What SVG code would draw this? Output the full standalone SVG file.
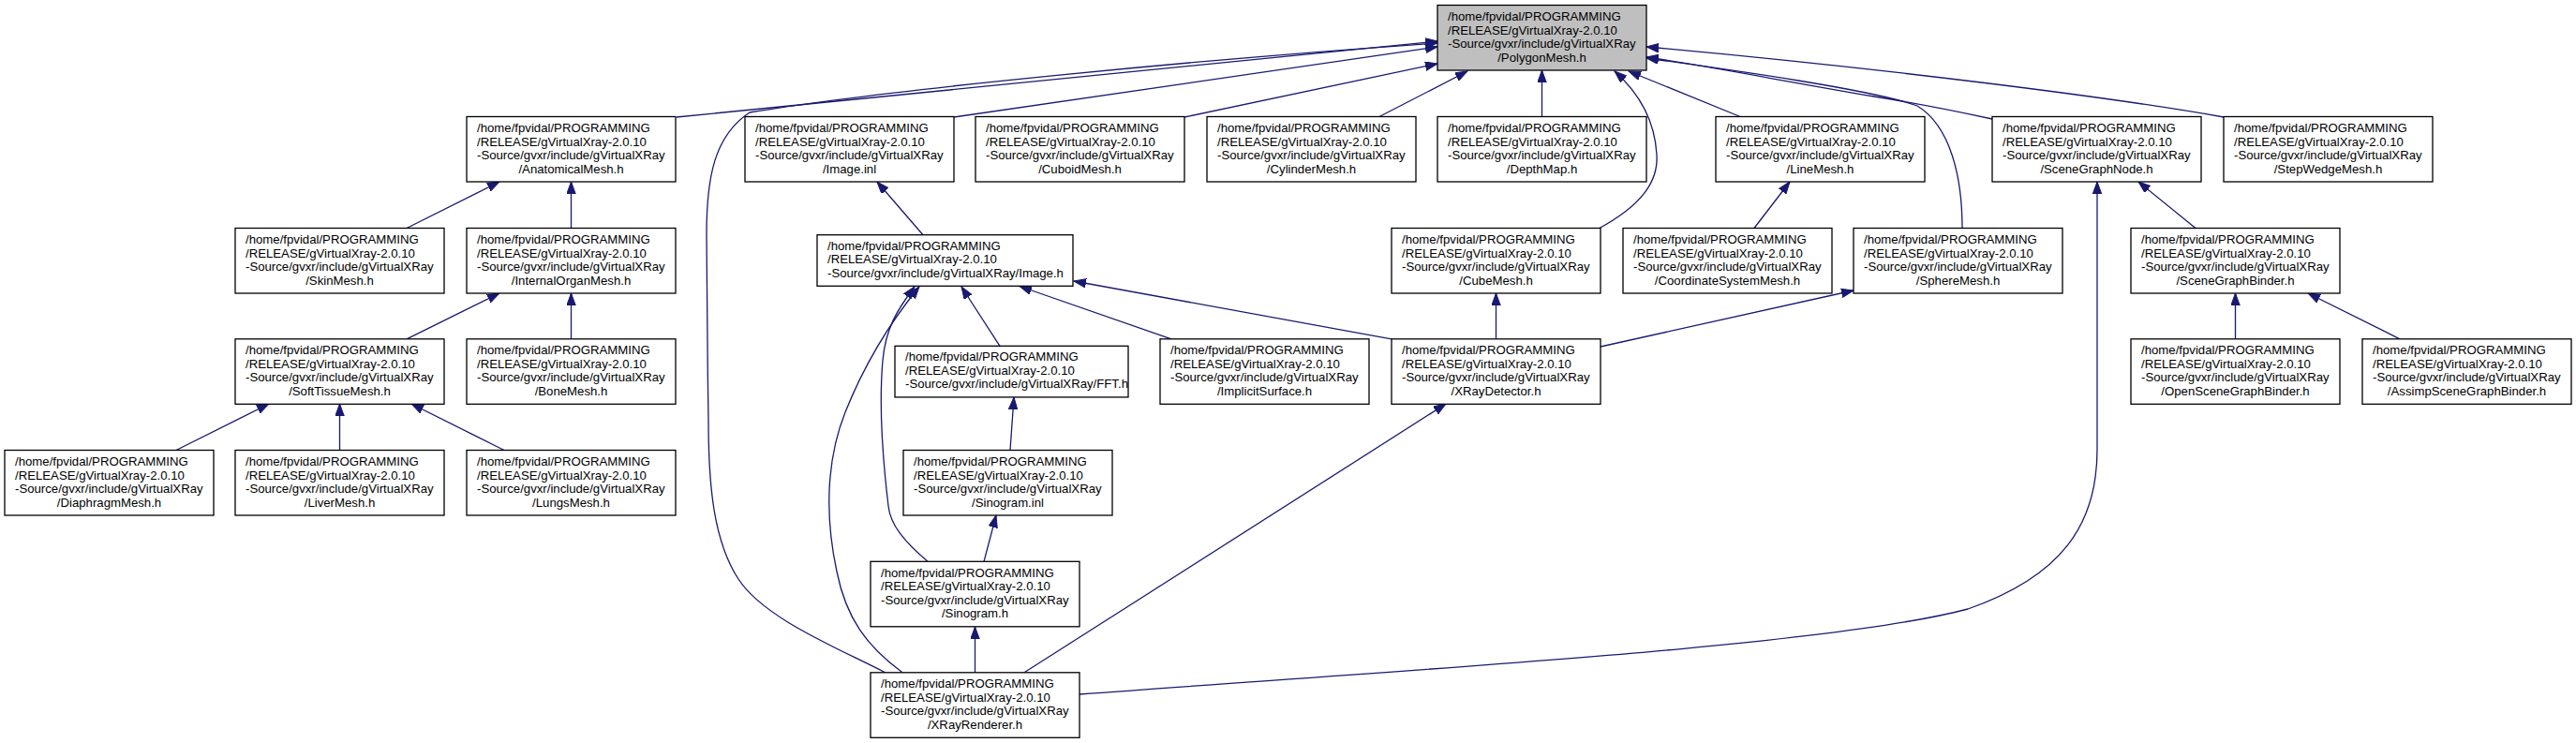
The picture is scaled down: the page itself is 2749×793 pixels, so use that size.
<svg xmlns="http://www.w3.org/2000/svg" width="2749" height="793" viewBox="0 0 2749 793">
<style>
.node rect{fill:#fff;stroke:#000;stroke-width:1.3}
#polygonmesh rect{fill:#bfbfbf}
.node text{font-family:"Liberation Sans",Arial,Helvetica,sans-serif;font-size:13.2px;fill:#000}
.node text.c{text-anchor:middle}
.edge{fill:none;stroke:#191970;stroke-width:1.3;marker-end:url(#arr)}
</style>
<defs>
<marker id="arr" markerUnits="userSpaceOnUse" markerWidth="14" markerHeight="10" refX="13" refY="4.75" orient="auto">
<path d="M0,0 L13,4.75 L0,9.5 z" fill="#191970" stroke="#191970" stroke-width="1"/>
</marker>
</defs>
<rect width="2749" height="793" fill="#fff"/>
<g id="connectors">
<path class="edge" d="M722,125 L1534,44"/>
<path class="edge" d="M945,718 C895,692 815,660 788,618 C762,578 756,520 756,450 C755,380 754,300 754,250 C754,190 762,145 800,120 C950,95 1300,62 1534,46"/>
<path class="edge" d="M1018,125 L1534,50"/>
<path class="edge" d="M1264,125 L1534,68"/>
<path class="edge" d="M1471,125 L1566,76"/>
<path class="edge" d="M1645.5,124.5 L1645.5,75"/>
<path class="edge" d="M1707,243.5 C1750,220 1770,195 1768,165 C1766,130 1750,100 1723,76"/>
<path class="edge" d="M1857,124.5 L1738,76"/>
<path class="edge" d="M2126,127 C2080,117 2050,111 2000,103 C1900,86 1820,70 1757,61"/>
<path class="edge" d="M2373,125 C2250,103 2000,72 1757,50"/>
<path class="edge" d="M2094,243.5 C2094,190 2082,135 2046,113 C2000,96 1850,75 1757,62"/>
<path class="edge" d="M434,243.5 L533,194"/>
<path class="edge" d="M609.5,243.5 L609.5,194"/>
<path class="edge" d="M985,250.7 L936,194"/>
<path class="edge" d="M1872,243.5 L1910,194"/>
<path class="edge" d="M2343,243.5 L2282,194"/>
<path class="edge" d="M1152,741 C1500,715 1950,690 2100,650 C2200,615 2238,560 2238,480 L2238,194"/>
<path class="edge" d="M434,361.8 L533,313"/>
<path class="edge" d="M609.5,361.8 L609.5,313"/>
<path class="edge" d="M1067,369.3 L1026,306"/>
<path class="edge" d="M1250,361.8 L1088,305.5"/>
<path class="edge" d="M1485,361.8 L1146,300"/>
<path class="edge" d="M1596.5,361.8 L1596.5,313"/>
<path class="edge" d="M1708,370 L1978,310"/>
<path class="edge" d="M2385.5,361.8 L2385.5,313"/>
<path class="edge" d="M2561,361.8 L2463,313"/>
<path class="edge" d="M188,480.5 L287,431"/>
<path class="edge" d="M362.5,480.5 L362.5,431"/>
<path class="edge" d="M538,480.5 L439,431"/>
<path class="edge" d="M1078,480.5 L1082,424"/>
<path class="edge" d="M1050,599.3 L1063,550"/>
<path class="edge" d="M990,599.3 C965,578 950,560 948,540 C942,490 938,430 942,385 C945,350 958,330 976,306"/>
<path class="edge" d="M963,717.8 C925,690 903,660 893,610 C880,550 882,490 902,440 C920,395 945,350 981,306"/>
<path class="edge" d="M1040.5,717.8 L1040.5,669"/>
<path class="edge" d="M1093,717.8 L1543,431"/>
</g>
<g id="polygonmesh" class="node"><rect x="1534" y="5.5" width="223" height="69.5"/><text x="1545" y="22">/home/fpvidal/PROGRAMMING</text><text x="1545" y="36.5">/RELEASE/gVirtualXray-2.0.10</text><text x="1545" y="51">-Source/gvxr/include/gVirtualXRay</text><text class="c" x="1645.5" y="65.5">/PolygonMesh.h</text></g>
<g id="anatomicalmesh" class="node"><rect x="498" y="124.5" width="223" height="69.5"/><text x="509" y="141">/home/fpvidal/PROGRAMMING</text><text x="509" y="155.5">/RELEASE/gVirtualXray-2.0.10</text><text x="509" y="170">-Source/gvxr/include/gVirtualXRay</text><text class="c" x="609.5" y="184.5">/AnatomicalMesh.h</text></g>
<g id="imageinl" class="node"><rect x="795" y="124.5" width="223" height="69.5"/><text x="806" y="141">/home/fpvidal/PROGRAMMING</text><text x="806" y="155.5">/RELEASE/gVirtualXray-2.0.10</text><text x="806" y="170">-Source/gvxr/include/gVirtualXRay</text><text class="c" x="906.5" y="184.5">/Image.inl</text></g>
<g id="cuboidmesh" class="node"><rect x="1041" y="124.5" width="223" height="69.5"/><text x="1052" y="141">/home/fpvidal/PROGRAMMING</text><text x="1052" y="155.5">/RELEASE/gVirtualXray-2.0.10</text><text x="1052" y="170">-Source/gvxr/include/gVirtualXRay</text><text class="c" x="1152.5" y="184.5">/CuboidMesh.h</text></g>
<g id="cylindermesh" class="node"><rect x="1288" y="124.5" width="223" height="69.5"/><text x="1299" y="141">/home/fpvidal/PROGRAMMING</text><text x="1299" y="155.5">/RELEASE/gVirtualXray-2.0.10</text><text x="1299" y="170">-Source/gvxr/include/gVirtualXRay</text><text class="c" x="1399.5" y="184.5">/CylinderMesh.h</text></g>
<g id="depthmap" class="node"><rect x="1534" y="124.5" width="223" height="69.5"/><text x="1545" y="141">/home/fpvidal/PROGRAMMING</text><text x="1545" y="155.5">/RELEASE/gVirtualXray-2.0.10</text><text x="1545" y="170">-Source/gvxr/include/gVirtualXRay</text><text class="c" x="1645.5" y="184.5">/DepthMap.h</text></g>
<g id="linemesh" class="node"><rect x="1831" y="124.5" width="223" height="69.5"/><text x="1842" y="141">/home/fpvidal/PROGRAMMING</text><text x="1842" y="155.5">/RELEASE/gVirtualXray-2.0.10</text><text x="1842" y="170">-Source/gvxr/include/gVirtualXRay</text><text class="c" x="1942.5" y="184.5">/LineMesh.h</text></g>
<g id="scenegraphnode" class="node"><rect x="2126" y="124.5" width="223" height="69.5"/><text x="2137" y="141">/home/fpvidal/PROGRAMMING</text><text x="2137" y="155.5">/RELEASE/gVirtualXray-2.0.10</text><text x="2137" y="170">-Source/gvxr/include/gVirtualXRay</text><text class="c" x="2237.5" y="184.5">/SceneGraphNode.h</text></g>
<g id="stepwedgemesh" class="node"><rect x="2373" y="124.5" width="223" height="69.5"/><text x="2384" y="141">/home/fpvidal/PROGRAMMING</text><text x="2384" y="155.5">/RELEASE/gVirtualXray-2.0.10</text><text x="2384" y="170">-Source/gvxr/include/gVirtualXRay</text><text class="c" x="2484.5" y="184.5">/StepWedgeMesh.h</text></g>
<g id="skinmesh" class="node"><rect x="251" y="243.5" width="223" height="69.5"/><text x="262" y="260">/home/fpvidal/PROGRAMMING</text><text x="262" y="274.5">/RELEASE/gVirtualXray-2.0.10</text><text x="262" y="289">-Source/gvxr/include/gVirtualXRay</text><text class="c" x="362.5" y="303.5">/SkinMesh.h</text></g>
<g id="internalorganmesh" class="node"><rect x="498" y="243.5" width="223" height="69.5"/><text x="509" y="260">/home/fpvidal/PROGRAMMING</text><text x="509" y="274.5">/RELEASE/gVirtualXray-2.0.10</text><text x="509" y="289">-Source/gvxr/include/gVirtualXRay</text><text class="c" x="609.5" y="303.5">/InternalOrganMesh.h</text></g>
<g id="imageh" class="node"><rect x="872" y="250.7" width="273" height="54.6"/><text x="883" y="266.7">/home/fpvidal/PROGRAMMING</text><text x="883" y="281.2">/RELEASE/gVirtualXray-2.0.10</text><text x="883" y="295.7">-Source/gvxr/include/gVirtualXRay/Image.h</text></g>
<g id="cubemesh" class="node"><rect x="1485" y="243.5" width="223" height="69.5"/><text x="1496" y="260">/home/fpvidal/PROGRAMMING</text><text x="1496" y="274.5">/RELEASE/gVirtualXray-2.0.10</text><text x="1496" y="289">-Source/gvxr/include/gVirtualXRay</text><text class="c" x="1596.5" y="303.5">/CubeMesh.h</text></g>
<g id="coordinatesystemmesh" class="node"><rect x="1732" y="243.5" width="223" height="69.5"/><text x="1743" y="260">/home/fpvidal/PROGRAMMING</text><text x="1743" y="274.5">/RELEASE/gVirtualXray-2.0.10</text><text x="1743" y="289">-Source/gvxr/include/gVirtualXRay</text><text class="c" x="1843.5" y="303.5">/CoordinateSystemMesh.h</text></g>
<g id="spheremesh" class="node"><rect x="1978" y="243.5" width="223" height="69.5"/><text x="1989" y="260">/home/fpvidal/PROGRAMMING</text><text x="1989" y="274.5">/RELEASE/gVirtualXray-2.0.10</text><text x="1989" y="289">-Source/gvxr/include/gVirtualXRay</text><text class="c" x="2089.5" y="303.5">/SphereMesh.h</text></g>
<g id="scenegraphbinder" class="node"><rect x="2274" y="243.5" width="223" height="69.5"/><text x="2285" y="260">/home/fpvidal/PROGRAMMING</text><text x="2285" y="274.5">/RELEASE/gVirtualXray-2.0.10</text><text x="2285" y="289">-Source/gvxr/include/gVirtualXRay</text><text class="c" x="2385.5" y="303.5">/SceneGraphBinder.h</text></g>
<g id="softtissuemesh" class="node"><rect x="251" y="361.8" width="223" height="69.5"/><text x="262" y="378.3">/home/fpvidal/PROGRAMMING</text><text x="262" y="392.8">/RELEASE/gVirtualXray-2.0.10</text><text x="262" y="407.3">-Source/gvxr/include/gVirtualXRay</text><text class="c" x="362.5" y="421.8">/SoftTissueMesh.h</text></g>
<g id="bonemesh" class="node"><rect x="498" y="361.8" width="223" height="69.5"/><text x="509" y="378.3">/home/fpvidal/PROGRAMMING</text><text x="509" y="392.8">/RELEASE/gVirtualXray-2.0.10</text><text x="509" y="407.3">-Source/gvxr/include/gVirtualXRay</text><text class="c" x="609.5" y="421.8">/BoneMesh.h</text></g>
<g id="ffth" class="node"><rect x="955" y="369.3" width="249" height="54.6"/><text x="966" y="385.3">/home/fpvidal/PROGRAMMING</text><text x="966" y="399.8">/RELEASE/gVirtualXray-2.0.10</text><text x="966" y="414.3">-Source/gvxr/include/gVirtualXRay/FFT.h</text></g>
<g id="implicitsurface" class="node"><rect x="1238" y="361.8" width="223" height="69.5"/><text x="1249" y="378.3">/home/fpvidal/PROGRAMMING</text><text x="1249" y="392.8">/RELEASE/gVirtualXray-2.0.10</text><text x="1249" y="407.3">-Source/gvxr/include/gVirtualXRay</text><text class="c" x="1349.5" y="421.8">/ImplicitSurface.h</text></g>
<g id="xraydetector" class="node"><rect x="1485" y="361.8" width="223" height="69.5"/><text x="1496" y="378.3">/home/fpvidal/PROGRAMMING</text><text x="1496" y="392.8">/RELEASE/gVirtualXray-2.0.10</text><text x="1496" y="407.3">-Source/gvxr/include/gVirtualXRay</text><text class="c" x="1596.5" y="421.8">/XRayDetector.h</text></g>
<g id="openscenegraphbinder" class="node"><rect x="2274" y="361.8" width="223" height="69.5"/><text x="2285" y="378.3">/home/fpvidal/PROGRAMMING</text><text x="2285" y="392.8">/RELEASE/gVirtualXray-2.0.10</text><text x="2285" y="407.3">-Source/gvxr/include/gVirtualXRay</text><text class="c" x="2385.5" y="421.8">/OpenSceneGraphBinder.h</text></g>
<g id="assimpscenegraphbinder" class="node"><rect x="2521" y="361.8" width="223" height="69.5"/><text x="2532" y="378.3">/home/fpvidal/PROGRAMMING</text><text x="2532" y="392.8">/RELEASE/gVirtualXray-2.0.10</text><text x="2532" y="407.3">-Source/gvxr/include/gVirtualXRay</text><text class="c" x="2632.5" y="421.8">/AssimpSceneGraphBinder.h</text></g>
<g id="diaphragmmesh" class="node"><rect x="5" y="480.5" width="223" height="69.5"/><text x="16" y="497">/home/fpvidal/PROGRAMMING</text><text x="16" y="511.5">/RELEASE/gVirtualXray-2.0.10</text><text x="16" y="526">-Source/gvxr/include/gVirtualXRay</text><text class="c" x="116.5" y="540.5">/DiaphragmMesh.h</text></g>
<g id="livermesh" class="node"><rect x="251" y="480.5" width="223" height="69.5"/><text x="262" y="497">/home/fpvidal/PROGRAMMING</text><text x="262" y="511.5">/RELEASE/gVirtualXray-2.0.10</text><text x="262" y="526">-Source/gvxr/include/gVirtualXRay</text><text class="c" x="362.5" y="540.5">/LiverMesh.h</text></g>
<g id="lungsmesh" class="node"><rect x="498" y="480.5" width="223" height="69.5"/><text x="509" y="497">/home/fpvidal/PROGRAMMING</text><text x="509" y="511.5">/RELEASE/gVirtualXray-2.0.10</text><text x="509" y="526">-Source/gvxr/include/gVirtualXRay</text><text class="c" x="609.5" y="540.5">/LungsMesh.h</text></g>
<g id="sinograminl" class="node"><rect x="964" y="480.5" width="223" height="69.5"/><text x="975" y="497">/home/fpvidal/PROGRAMMING</text><text x="975" y="511.5">/RELEASE/gVirtualXray-2.0.10</text><text x="975" y="526">-Source/gvxr/include/gVirtualXRay</text><text class="c" x="1075.5" y="540.5">/Sinogram.inl</text></g>
<g id="sinogramh" class="node"><rect x="929" y="599.3" width="223" height="69.5"/><text x="940" y="615.8">/home/fpvidal/PROGRAMMING</text><text x="940" y="630.3">/RELEASE/gVirtualXray-2.0.10</text><text x="940" y="644.8">-Source/gvxr/include/gVirtualXRay</text><text class="c" x="1040.5" y="659.3">/Sinogram.h</text></g>
<g id="xrayrenderer" class="node"><rect x="929" y="717.8" width="223" height="69.5"/><text x="940" y="734.3">/home/fpvidal/PROGRAMMING</text><text x="940" y="748.8">/RELEASE/gVirtualXray-2.0.10</text><text x="940" y="763.3">-Source/gvxr/include/gVirtualXRay</text><text class="c" x="1040.5" y="777.8">/XRayRenderer.h</text></g>
</svg>
